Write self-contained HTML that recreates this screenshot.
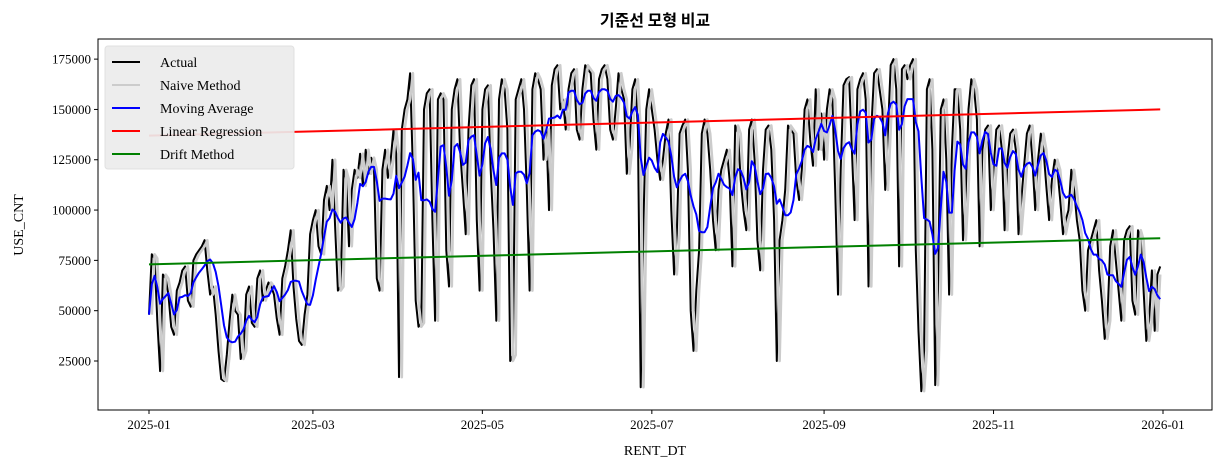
<!DOCTYPE html>
<html><head><meta charset="utf-8"><style>
html,body{margin:0;padding:0;background:#fff;}
svg{display:block;font-family:"Liberation Serif","Noto Serif CJK SC",serif;}
</style></head><body>
<svg id="chart" width="1225" height="469" xmlns="http://www.w3.org/2000/svg">
<text x="655" y="26" text-anchor="middle" font-size="16" font-weight="bold" font-family="'Noto Sans CJK KR','Noto Sans CJK SC',sans-serif">기준선 모형 비교</text>
<text x="655" y="455" text-anchor="middle" font-size="14">RENT_DT</text>
<text x="23" y="225" text-anchor="middle" font-size="14" transform="rotate(-90 23 225)">USE_CNT</text>
<g id="plot"></g>
</svg>
<script>
const actualK = [
48,78,76,45,20,68,66,58,42,38,60,64,70,72,55,52,75,78,80,82,85,70,58,62,48,30,16,15,28,45,58,
50,48,26,30,58,62,44,42,66,70,55,60,64,62,58,46,38,66,72,80,90,62,46,35,33,48,58,88,
95,100,82,78,105,112,100,125,92,60,62,120,115,82,110,120,116,128,112,130,118,126,120,66,60,120,130,116,125,140,128,
17,140,150,155,168,120,55,42,44,150,158,160,95,45,155,158,155,80,62,150,160,165,130,110,88,140,162,165,95,60,
150,160,162,120,90,45,155,165,160,140,25,28,155,160,165,150,110,60,160,168,165,160,125,140,100,162,170,172,150,155,140,
160,168,170,140,135,160,172,170,168,145,130,165,170,172,165,140,135,150,168,160,155,118,132,160,165,140,12,95,150,160,
150,140,125,115,125,138,145,100,68,88,138,142,145,120,50,30,60,80,138,145,138,120,95,80,110,120,125,130,115,72,142,
138,115,100,90,140,145,125,85,70,120,140,142,130,95,25,85,95,110,142,140,138,115,105,120,150,155,135,122,160,130,148,
125,150,160,155,110,58,120,162,165,166,130,95,160,165,168,155,62,140,168,170,160,150,110,140,172,175,160,72,170,172,
165,172,175,80,40,10,30,160,165,130,13,60,150,155,125,58,130,160,160,140,85,110,150,165,160,145,82,130,140,142,100,
120,140,142,130,90,125,138,140,130,88,105,122,138,142,125,100,125,138,130,112,95,115,125,120,105,88,95,100,120,110,
95,85,60,50,80,85,90,95,70,55,36,45,82,90,75,60,45,85,90,92,55,48,90,85,60,35,45,70,40,68,72];
const linearEnds = [137000, 150000];
const driftEnds = [73000, 86000];
const yTicks = [25000,50000,75000,100000,125000,150000,175000];
const xTickDays = [0,59,120,181,243,304,365];
const xTickLabels = ["2025-01","2025-03","2025-05","2025-07","2025-09","2025-11","2026-01"];
const legendLabels = ["Actual","Naive Method","Moving Average","Linear Regression","Drift Method"];

const actual = actualK.map(v=>v*1000);
const N = actual.length;
const naive = actual.map((v,i)=> i===0 ? null : actual[i-1]);
const ma = actual.map((v,i)=>{const s=actual.slice(Math.max(0,i-6),i+1);return s.reduce((a,b)=>a+b,0)/s.length;});

const L=98,R=1212,T=39,B=410;
const x = d => 149 + d*(1163-149)/365;
const y = v => B - (v-650)*(B-T)/(185000-650);
const NS='http://www.w3.org/2000/svg';
const g=document.getElementById('plot');
function el(tag,attrs){const e=document.createElementNS(NS,tag);for(const k in attrs)e.setAttribute(k,attrs[k]);g.appendChild(e);return e;}
function path(arr,color,w,name){
  let d='';arr.forEach((v,i)=>{if(v===null)return;d+=(d?'L':'M')+x(i).toFixed(1)+','+y(v).toFixed(1);});
  const p=el('path',{d:d,fill:'none',stroke:color,'stroke-width':w,'stroke-linejoin':'round'});
  
  
}
path(actual,'#000000',2,'actual-line');
path(naive,'#cccccc',2.6,'naive-method-line');
path(ma,'#0000ff',2,'moving-average-line');
const lr=el('line',{x1:x(0),y1:y(linearEnds[0]),x2:x(N-1),y2:y(linearEnds[1]),stroke:'#ff0000','stroke-width':2});


const dr=el('line',{x1:x(0),y1:y(driftEnds[0]),x2:x(N-1),y2:y(driftEnds[1]),stroke:'#008000','stroke-width':2});


const fr=el('rect',{x:L,y:T,width:R-L,height:B-T,fill:'none',stroke:'#000','stroke-width':1});


yTicks.forEach(v=>{
  el('line',{x1:L-4,x2:L,y1:y(v),y2:y(v),stroke:'#000'});
  const t=el('text',{x:L-7,y:y(v)+4.5,'text-anchor':'end','font-size':13});t.textContent=v;
  
  
});
xTickDays.forEach((d,i)=>{
  el('line',{x1:x(d),x2:x(d),y1:B,y2:B+4,stroke:'#000'});
  const t=el('text',{x:x(d),y:B+19,'text-anchor':'middle','font-size':13});t.textContent=xTickLabels[i];
  
  
});
const lg=el('rect',{x:105,y:46,width:189,height:123,rx:3,fill:'#ebebeb','fill-opacity':0.92,stroke:'#e0e0e0'});


const lcol=['#000000','#cccccc','#0000ff','#ff0000','#008000'];
legendLabels.forEach((s,i)=>{
  const yy=62+i*23;
  el('line',{x1:112,x2:140,y1:yy,y2:yy,stroke:lcol[i],'stroke-width':2});
  const t=el('text',{x:160,y:yy+5,'font-size':14});t.textContent=s;
  
  
});
</script>
</body></html>
